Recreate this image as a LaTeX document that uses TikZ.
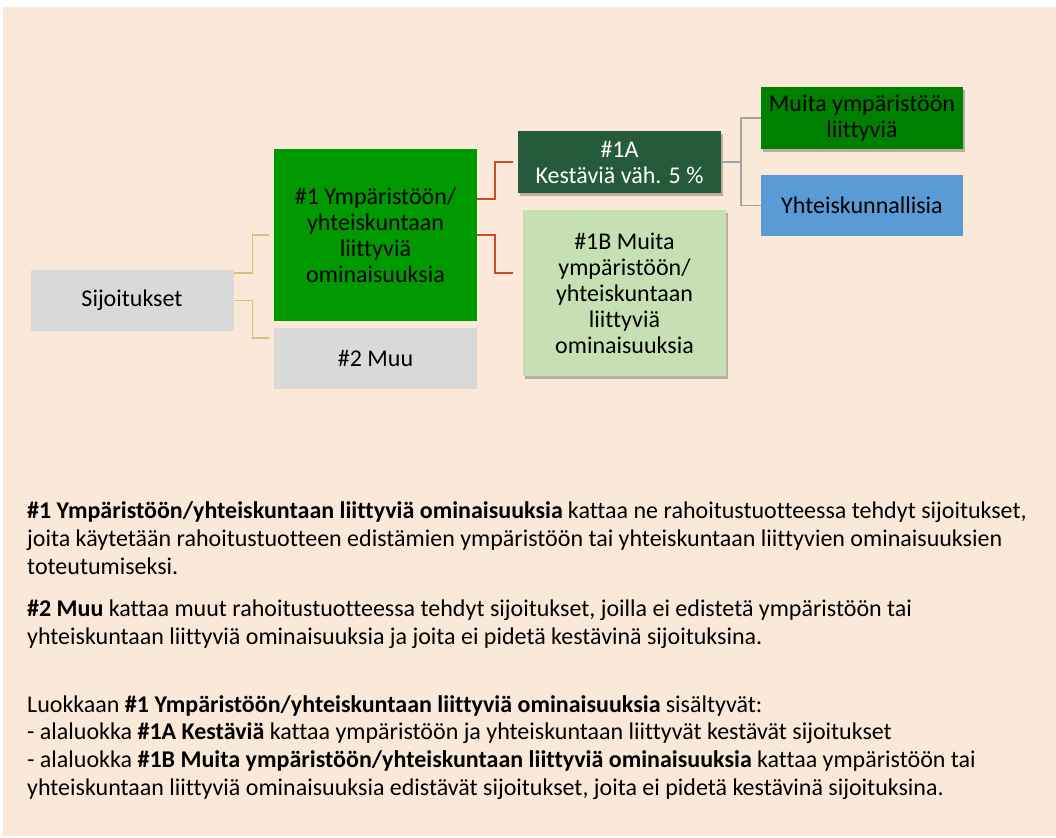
\documentclass[tikz,border=0pt]{standalone}
\usepackage{fontspec}
\setmainfont{Carlito}[Ligatures=NoCommon]
\usetikzlibrary{shadows}
\definecolor{paper}{HTML}{FAE9D8}
\definecolor{boxgray}{HTML}{D9D9D9}
\definecolor{greenone}{HTML}{009900}
\definecolor{darkgreen}{HTML}{255A3B}
\definecolor{lightgreen}{HTML}{C6E0B4}
\definecolor{greenmuita}{HTML}{008000}
\definecolor{bluebox}{HTML}{5B9BD5}
\definecolor{tanline}{HTML}{D5C27E}
\definecolor{redline}{HTML}{CC4B2B}
\definecolor{grayline}{HTML}{A3A3A3}

\begin{document}
\begin{tikzpicture}[x=1pt,y=-1pt,
    box/.style={inner sep=0pt, align=center, minimum width=203pt,
      font=\fontsize{24}{26}\selectfont},
    shade/.style={drop shadow={shadow xshift=2pt,shadow yshift=-3pt,
      fill=black,opacity=0.25}},
    para/.style={inner sep=0pt, align=left, anchor=base west,
      font=\fontsize{24}{27.6}\selectfont}]
      \useasboundingbox (0,0) rectangle (1056,837) ;
      \fill[paper] (3,7) rectangle (1056,836) ;
      % boxes of the chart
      \node[box,fill=boxgray,minimum height=61pt] (sij) at (132,300.5) {Sijoitukset} ;
      \node[box,fill=greenone,minimum height=172pt] (one) at (375.5,235) %
      {\#1 Ympäristöön/\\yhteiskuntaan\\liittyviä\\ominaisuuksia} ;
      \node[box,fill=boxgray,minimum height=61pt] (two) at (375.5,358.5) {\#2 Muu} ;
      \node[box,shade,fill=darkgreen,text=white,minimum height=62pt] (oneA) %
      at (619.5,162) {\#1A\\Kestäviä väh. 5 \%} ;
      \node[box,shade,fill=lightgreen,minimum height=166pt] (oneB) at (624.5,293) %
      {\#1B Muita\\ympäristöön/\\yhteiskuntaan\\liittyviä\\ominaisuuksia} ;
      \node[box,shade,fill=greenmuita,minimum width=202pt,minimum height=62pt] %
      (muita) at (862,118) {Muita ympäristöön\\liittyviä} ;
      \node[box,fill=bluebox,minimum width=202pt,minimum height=61pt] %
      (yht) at (862,205.5) {Yhteiskunnallisia} ;
      % connectors
      \draw[tanline,line width=1.5pt] ([yshift=-3pt]sij.north east) -- ++(19,0) %
      |- ([xshift=-5pt]one.west) ;
      \draw[tanline,line width=1.5pt] (sij.east) -- ++(19,0) %
      |- ([xshift=-5pt,yshift=-10pt]two.north west) ;
      \draw[redline,line width=1.5pt] ([yshift=36pt]one.east) -- ++(18,0) %
      |- ([xshift=-5pt]oneA.west) ;
      \draw[redline,line width=1.5pt] (one.east) -- ++(18,0) %
      |- ([xshift=-10pt,yshift=-63pt]oneB.north west) ;
      \draw[grayline,line width=1.5pt] (oneA.east) -- ++(20,0) coordinate (fork) ;
      \draw[grayline,line width=1.5pt] (fork) |- (muita.west) ;
      \draw[grayline,line width=1.5pt] (fork) |- (yht.west) ;
      % explanation text, placed at the baseline of each last line
      \node[para] (p1) at (27,574) {\textbf{\#1 Ympäristöön/yhteiskuntaan liittyviä ominaisuuksia} kattaa ne rahoitustuotteessa tehdyt sijoitukset,\\
      joita käytetään rahoitustuotteen edistämien ympäristöön tai yhteiskuntaan liittyvien ominaisuuksien\\
      toteutumiseksi.} ;
      \node[para] (p2) at (27,644) {\textbf{\#2 Muu} kattaa muut rahoitustuotteessa tehdyt sijoitukset, joilla ei edistetä ympäristöön tai\\
      yhteiskuntaan liittyviä ominaisuuksia ja joita ei pidetä kestävinä sijoituksina.} ;
      \node[para] (p3) at (27,795) {Luokkaan \textbf{\#1 Ympäristöön/yhteiskuntaan liittyviä ominaisuuksia} sisältyvät:\\
      - alaluokka \textbf{\#1A Kestäviä} kattaa ympäristöön ja yhteiskuntaan liittyvät kestävät sijoitukset\\
      - alaluokka \textbf{\#1B Muita ympäristöön/yhteiskuntaan liittyviä ominaisuuksia} kattaa ympäristöön tai\\
      yhteiskuntaan liittyviä ominaisuuksia edistävät sijoitukset, joita ei pidetä kestävinä sijoituksina.} ;
    \end{tikzpicture}
\end{document}
